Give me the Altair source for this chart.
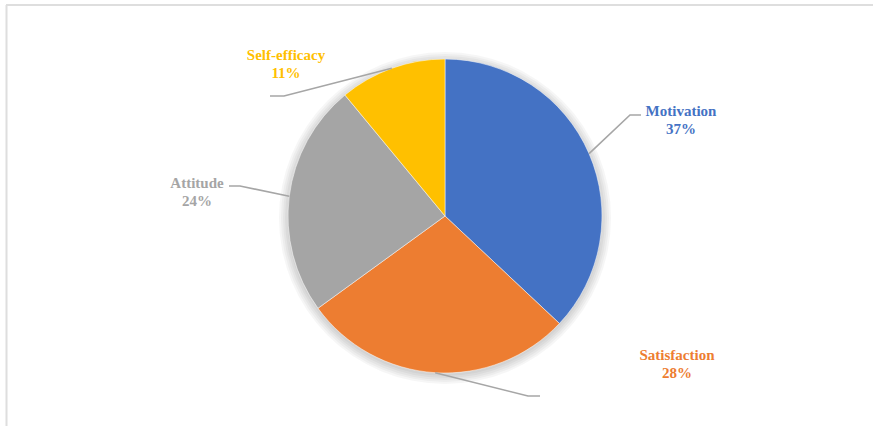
import math
import altair as alt
import pandas as pd

# ---- data ----
categories = ["Motivation", "Satisfaction", "Attitude", "Self-efficacy"]
values = [37, 28, 24, 11]
colors = ["#4472C4", "#ED7D31", "#A5A5A5", "#FFC000"]

# ---- layout (pixels) ----
W, H = 873, 426
CX, CY, R = 445, 216, 157
label_xy = {  # centre of the name line
    "Motivation": (681, 111),
    "Satisfaction": (677, 355),
    "Attitude": (197, 183),
    "Self-efficacy": (286, 55),
}
leader_elbow = {  # elbow point, end point
    "Motivation": ((630, 115), (641, 115)),
    "Satisfaction": ((528, 396), (540, 396)),
    "Attitude": ((240, 186), (229, 186)),
    "Self-efficacy": ((284, 96), (270, 96)),
}
LINE_GAP = 18
SHADOW_RADII = [158, 160, 162, 164, 166]

total = sum(values)
pie_df = pd.DataFrame({"cat": categories, "value": values, "idx": range(len(values))})

lab_rows = []
line_rows = []
cum = 0
for c, v, col in zip(categories, values, colors):
    pct = round(100 * v / total)
    lx, ly = label_xy[c]
    lab_rows.append({"t": c, "x": lx, "y": ly, "cat": c})
    lab_rows.append({"t": f"{pct}%", "x": lx, "y": ly + LINE_GAP, "cat": c})
    mid = (cum + v / 2) / total * 2 * math.pi
    cum += v
    sx, sy = CX + R * math.sin(mid), CY - R * math.cos(mid)
    (ex, ey), (fx, fy) = leader_elbow[c]
    for k, (px, py) in enumerate([(sx, sy), (ex, ey), (fx, fy)]):
        line_rows.append({"cat": c, "k": k, "x": px, "y": py})
lab_df = pd.DataFrame(lab_rows)
line_df = pd.DataFrame(line_rows)

color_scale = alt.Scale(domain=categories, range=colors)

one = pd.DataFrame({"a": [0]})
shadows = [
    alt.Chart(one).mark_arc(outerRadius=r, theta=0, theta2=2 * math.pi, color="#000000", opacity=0.035).encode(
        x=alt.value(CX), y=alt.value(CY + 2)
    )
    for r in SHADOW_RADII
]

pie = alt.Chart(pie_df).mark_arc(outerRadius=R, stroke="#ffffff", strokeWidth=0.5).encode(
    theta=alt.Theta("value:Q", stack=True),
    color=alt.Color("cat:N", scale=color_scale, legend=None),
    order=alt.Order("idx:Q"),
    x=alt.value(CX),
    y=alt.value(CY),
)

leaders = alt.Chart(line_df).mark_line(color="#A6A6A6", strokeWidth=1.6).encode(
    x=alt.X("x:Q", scale=None, axis=None),
    y=alt.Y("y:Q", scale=None, axis=None),
    detail="cat:N",
    order="k:Q",
)

labels = alt.Chart(lab_df).mark_text(
    font="Liberation Serif", fontSize=15, fontWeight="bold", baseline="middle", align="center"
).encode(
    x=alt.X("x:Q", scale=None, axis=None),
    y=alt.Y("y:Q", scale=None, axis=None),
    text="t:N",
    color=alt.Color("cat:N", scale=color_scale, legend=None),
)

frame_top = alt.Chart(one).mark_rule(color="#DEDEDE", strokeWidth=2).encode(
    x=alt.value(6), x2=alt.value(W), y=alt.value(5)
)
frame_left = alt.Chart(one).mark_rule(color="#DEDEDE", strokeWidth=2).encode(
    x=alt.value(6.5), y=alt.value(5), y2=alt.value(H)
)

chart = alt.layer(frame_top, frame_left, *shadows, pie, leaders, labels).properties(
    width=W, height=H, padding=0, autosize=alt.AutoSizeParams(type="none")
).configure(background="#ffffff").configure_view(stroke=None, fill="#ffffff")

chart.save("out.html", embed_options={"renderer": "svg", "actions": False})
